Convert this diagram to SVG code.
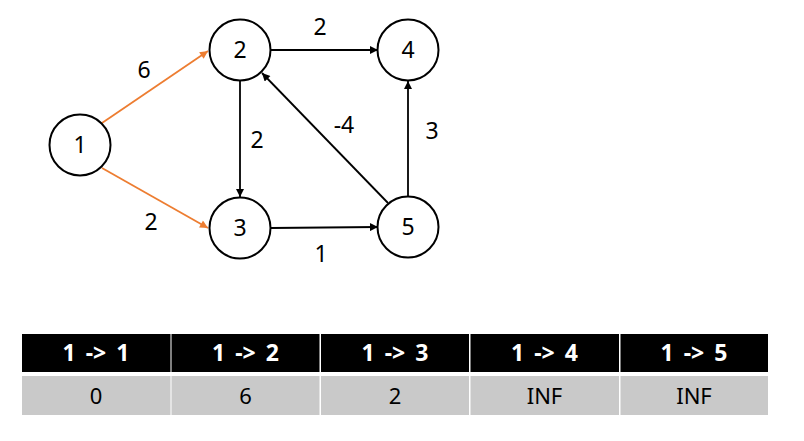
<svg xmlns="http://www.w3.org/2000/svg" width="804" height="441" viewBox="0 0 804 441">
  <style>
    .node circle { fill: #fff; stroke: #000; stroke-width: 2; }
    .node text, .lbl { font-family: "Noto Sans", "Open Sans", sans-serif; font-size: 23px; fill: #000; text-anchor: middle; }
    .edge { stroke: #000; stroke-width: 1.8; fill: none; marker-end: url(#ah); }
    .edge.hl { stroke: #ED7D31; marker-end: url(#ahO); }
    .hd { fill: #000; }
    .cell { fill: #c9c9c9; }
    .hdt { font-family: "Noto Sans", "Open Sans", sans-serif; font-size: 23px; font-weight: bold; fill: #fff; text-anchor: middle; word-spacing: 4px; }
    .ct { font-family: "Noto Sans", "Open Sans", sans-serif; font-size: 22px; fill: #000; text-anchor: middle; }
  </style>
  <defs>
    <marker id="ah" viewBox="0 0 10 10" refX="10" refY="5" markerWidth="9" markerHeight="8" markerUnits="userSpaceOnUse" orient="auto">
      <path d="M0,0 L10,5 L0,10 z" fill="#000"/>
    </marker>
    <marker id="ahO" viewBox="0 0 10 10" refX="10" refY="5" markerWidth="9" markerHeight="8" markerUnits="userSpaceOnUse" orient="auto">
      <path d="M0,0 L10,5 L0,10 z" fill="#ED7D31"/>
    </marker>
  </defs>

  <g id="edges">
    <line class="edge hl" x1="102" y1="123" x2="208" y2="51"/>
    <line class="edge hl" x1="102" y1="168" x2="208" y2="228"/>
    <line class="edge" x1="240" y1="81" x2="240" y2="197"/>
    <line class="edge" x1="271" y1="50" x2="378" y2="50"/>
    <line class="edge" x1="271" y1="228" x2="378" y2="227"/>
    <line class="edge" x1="408" y1="196" x2="408" y2="81"/>
    <line class="edge" x1="388" y1="203" x2="262" y2="73"/>
  </g>

  <g id="edge-labels">
    <text class="lbl" x="144" y="78">6</text>
    <text class="lbl" x="151" y="230">2</text>
    <text class="lbl" x="257" y="148">2</text>
    <text class="lbl" x="320" y="35">2</text>
    <text class="lbl" x="344" y="133">-4</text>
    <text class="lbl" x="432" y="139">3</text>
    <text class="lbl" x="321" y="262">1</text>
  </g>

  <g id="node1" class="node"><circle cx="80" cy="145" r="30.5"/><text x="80" y="153">1</text></g>
  <g id="node2" class="node"><circle cx="240" cy="50" r="30.5"/><text x="240" y="58">2</text></g>
  <g id="node3" class="node"><circle cx="240" cy="228" r="30.5"/><text x="240" y="236">3</text></g>
  <g id="node4" class="node"><circle cx="408" cy="50" r="30.5"/><text x="408" y="58">4</text></g>
  <g id="node5" class="node"><circle cx="408" cy="227" r="30.5"/><text x="408" y="235">5</text></g>

  <g id="table">
    <rect class="hd" x="22" y="334" width="148.5" height="38"/>
    <rect class="hd" x="171.5" y="334" width="148" height="38"/>
    <rect class="hd" x="321" y="334" width="148" height="38"/>
    <rect class="hd" x="470.5" y="334" width="148.5" height="38"/>
    <rect class="hd" x="620.5" y="334" width="147.5" height="38"/>
    <rect class="cell" x="22" y="376" width="148.5" height="39"/>
    <rect class="cell" x="171.5" y="376" width="148" height="39"/>
    <rect class="cell" x="321" y="376" width="148" height="39"/>
    <rect class="cell" x="470.5" y="376" width="148.5" height="39"/>
    <rect class="cell" x="620.5" y="376" width="147.5" height="39"/>
    <text class="hdt" x="96" y="361">1 -&gt; 1</text>
    <text class="hdt" x="245.5" y="361">1 -&gt; 2</text>
    <text class="hdt" x="395" y="361">1 -&gt; 3</text>
    <text class="hdt" x="544.5" y="361">1 -&gt; 4</text>
    <text class="hdt" x="694" y="361">1 -&gt; 5</text>
    <text class="ct" x="96" y="404">0</text>
    <text class="ct" x="245.5" y="404">6</text>
    <text class="ct" x="395" y="404">2</text>
    <text class="ct" x="544.5" y="404">INF</text>
    <text class="ct" x="694" y="404">INF</text>
  </g>
</svg>
